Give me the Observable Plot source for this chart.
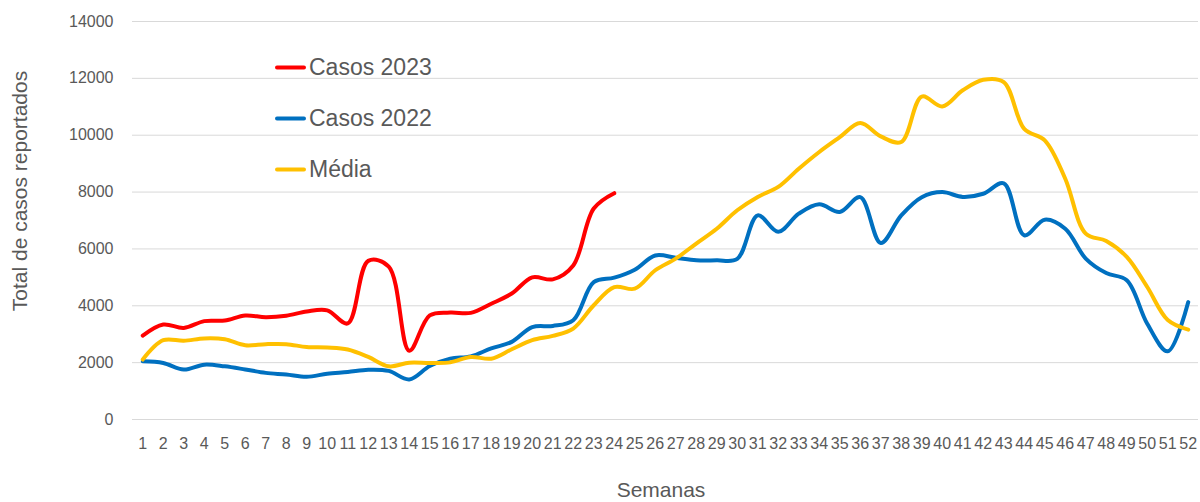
<!DOCTYPE html>
<html><head><meta charset="utf-8">
<script src="https://cdn.jsdelivr.net/npm/d3@7"></script>
<script src="https://cdn.jsdelivr.net/npm/@observablehq/plot@0.6"></script>
<style>
body{margin:0;background:#fff;}
#wrap{position:relative;width:1200px;height:502px;font-family:"Liberation Sans",Arial,sans-serif;color:#595959;overflow:hidden;}
#wrap svg{position:absolute;left:0;top:0;}
.ytitle{position:absolute;left:20px;top:191px;transform:translate(-50%,-50%) rotate(-90deg);font-size:21px;white-space:nowrap;}
.xtitle{position:absolute;left:661px;top:490px;transform:translate(-50%,-50%);font-size:21px;white-space:nowrap;}
.item{position:absolute;left:275px;display:flex;align-items:center;font-size:23px;white-space:nowrap;transform:translateY(-50%);}
.swatch{width:31px;height:4px;margin-right:3px;border-radius:2px;}
</style></head>
<body>
<div id="wrap"></div>
<script>
const weeks = [1,2,3,4,5,6,7,8,9,10,11,12,13,14,15,16,17,18,19,20,21,22,23,24,25,26,27,28,29,30,31,32,33,34,35,36,37,38,39,40,41,42,43,44,45,46,47,48,49,50,51,52];
const yTicks = [0,2000,4000,6000,8000,10000,12000,14000];
const seriesNames = ["Casos 2023","Casos 2022","Média"];
const seriesColors = ["#FF0000","#0070C0","#FFC000"];

const casos2023 = [2950,3340,3220,3460,3480,3660,3600,3650,3800,3840,3380,5580,5380,2420,3660,3760,3750,4070,4430,5000,4930,5420,7420,7960];
const casos2022 = [2050,1990,1760,1930,1870,1760,1640,1580,1500,1610,1670,1750,1710,1410,1880,2140,2220,2500,2730,3250,3290,3490,4830,4990,5270,5770,5690,5600,5600,5650,7180,6600,7240,7570,7300,7820,6210,7180,7820,8000,7830,7940,8310,6480,7030,6710,5660,5150,4900,3370,2400,4130];
const media = [2110,2790,2770,2850,2820,2610,2650,2650,2550,2530,2460,2200,1870,2000,1990,2010,2200,2140,2470,2790,2940,3200,4020,4660,4600,5250,5660,6190,6710,7360,7830,8180,8820,9410,9930,10430,9960,9760,11360,11010,11580,11950,11870,10220,9820,8470,6540,6280,5720,4660,3500,3160];

const allSeries = [casos2023, casos2022, media];
const rows = [];
allSeries.forEach((vals, s) => vals.forEach((v, i) => rows.push({week: weeks[i], value: v, serie: seriesNames[s]})));

const chart = Plot.plot({
  width: 1200, height: 502,
  marginLeft: 132, marginRight: 2, marginTop: 21, marginBottom: 83,
  style: {fontFamily: '"Liberation Sans", Arial, sans-serif', color: "#595959", background: "transparent", overflow: "visible"},
  x: {domain: [0.5, 52.5], axis: null},
  y: {domain: [0, 14000], axis: null},
  color: {domain: seriesNames, range: seriesColors},
  marks: [
    Plot.gridY(yTicks, {stroke: "#d9d9d9", strokeOpacity: 1, strokeWidth: 1}),
    Plot.axisY(yTicks, {tickSize: 0, tickPadding: 19, fontSize: 16, label: null, tickFormat: d => String(d)}),
    Plot.axisX(weeks, {tickSize: 0, tickPadding: 18, fontSize: 16, label: null, tickFormat: d => String(d)}),
    Plot.line(rows, {x: "week", y: "value", z: "serie", stroke: "serie", strokeWidth: 4, curve: "catmull-rom", strokeLinecap: "round", strokeLinejoin: "round"})
  ]
});

const wrap = document.getElementById("wrap");
wrap.appendChild(chart);

const yt = document.createElement("div"); yt.className = "ytitle"; yt.textContent = "Total de casos reportados"; wrap.appendChild(yt);
const xt = document.createElement("div"); xt.className = "xtitle"; xt.textContent = "Semanas"; wrap.appendChild(xt);
const legendY = [67, 118, 169];
seriesNames.forEach((n, i) => {
  const it = document.createElement("div"); it.className = "item"; it.style.top = legendY[i] + "px";
  const sw = document.createElement("span"); sw.className = "swatch"; sw.style.background = seriesColors[i];
  const tx = document.createElement("span"); tx.textContent = n;
  it.appendChild(sw); it.appendChild(tx); wrap.appendChild(it);
});
</script>
</body></html>
